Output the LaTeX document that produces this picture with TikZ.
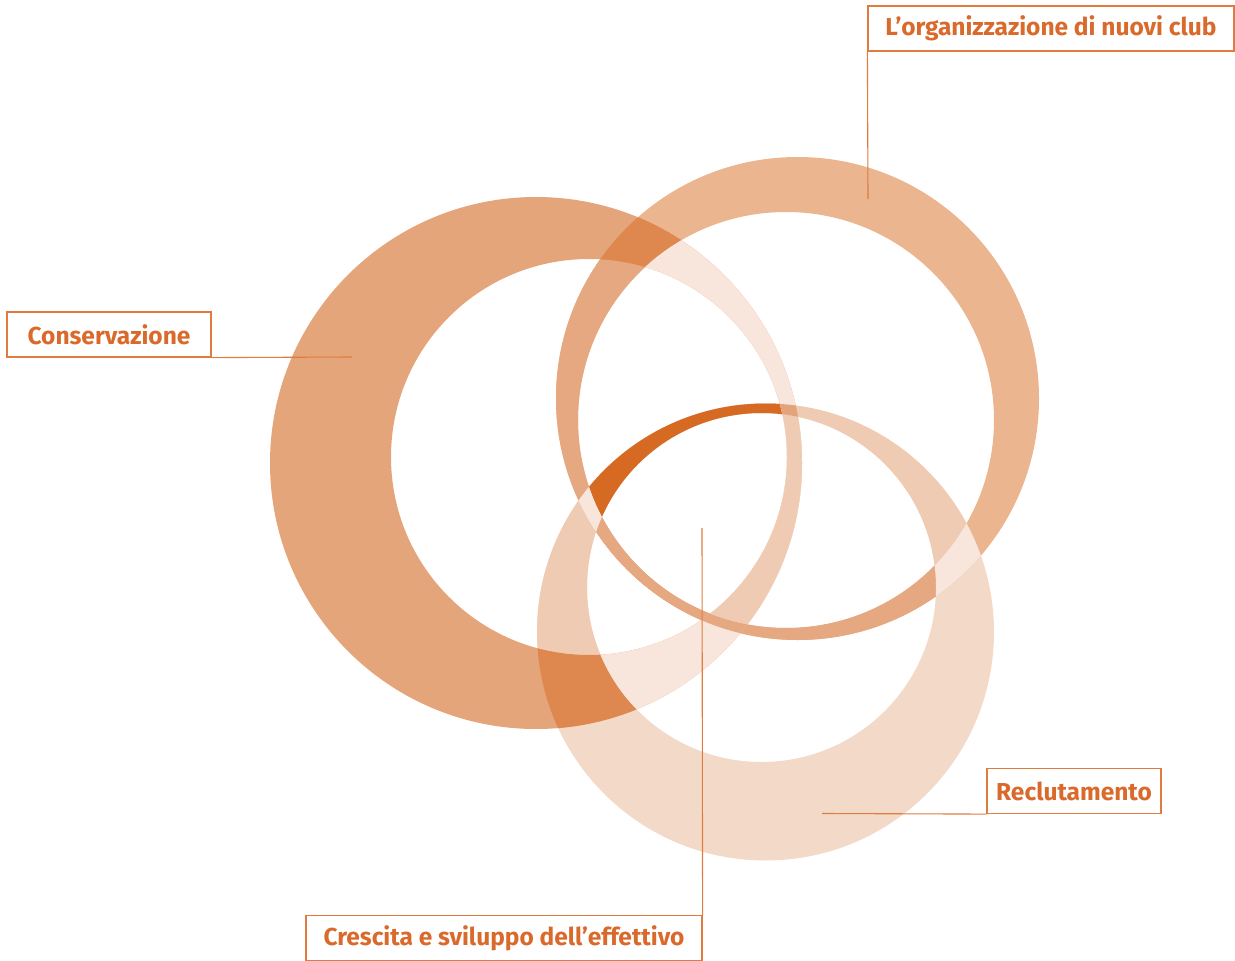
\documentclass[tikz,border=0pt]{standalone}
\usepackage{fontspec}
\setmainfont{Fira Sans}
\begin{document}
\begin{tikzpicture}[x=1pt,y=-1pt]
% palette
\definecolor{ringC}{HTML}{E5A57A}
\definecolor{ringO}{HTML}{EBB590}
\definecolor{ringR}{HTML}{F3D9C8}
\definecolor{ringOdeep}{HTML}{E6A880}
\definecolor{ringRmid}{HTML}{F0CBB3}
\definecolor{core}{HTML}{D66A22}
\definecolor{cross}{HTML}{DE8850}
\definecolor{pale}{HTML}{F8E6DC}
\definecolor{crossmid}{HTML}{E3A47B}
\definecolor{labeltext}{HTML}{DA6A2B}
\definecolor{labelline}{HTML}{E07C40}
\tikzset{
  labelbox/.style={draw=labelline, line width=1.2pt, fill=white, text=labeltext,
    font=\fontsize{24.5}{28}\selectfont\bfseries, inner sep=0pt, anchor=center},
  leader/.style={draw=labelline, line width=1.1pt},
  region/.style={fill=#1}
}
\useasboundingbox (0,0) rectangle (1235,961);
% discs and bands (outer circle anticlockwise, inner clockwise -> hole)
\def\Cin{(589,457) circle[radius=198pt]}
\def\Oin{(786,420) circle[radius=208pt]}
\def\Rin{(761.5,587.5) circle[radius=174.5pt]}
\def\Cband{(536,463) ++(266pt,0pt) arc[start angle=0,end angle=360,radius=266pt] -- cycle
  (589,457) ++(198pt,0pt) arc[start angle=0,end angle=-360,radius=198pt] -- cycle}
\def\Oband{(797.5,398.5) ++(241.5pt,0pt) arc[start angle=0,end angle=360,radius=241.5pt] -- cycle
  (786,420) ++(208pt,0pt) arc[start angle=0,end angle=-360,radius=208pt] -- cycle}
\def\Rband{(765.5,632) ++(228.5pt,0pt) arc[start angle=0,end angle=360,radius=228.5pt] -- cycle
  (761.5,587.5) ++(174.5pt,0pt) arc[start angle=0,end angle=-360,radius=174.5pt] -- cycle}
\def\All{(0,0) rectangle (1235,961)}

% base rings
\fill[ringR] \Rband;
\fill[ringO] \Oband;
\fill[ringC] \Cband;

% overlaps
\begin{scope}\clip \Oband; \clip \Cin; \fill[ringOdeep] \All; \end{scope}
\begin{scope}\clip \Oband; \clip \Rin; \fill[ringOdeep] \All; \end{scope}
\begin{scope}\clip \Rband; \clip \Cin; \fill[ringRmid] \All; \end{scope}
\begin{scope}\clip \Rband; \clip \Oin; \fill[ringRmid] \All; \end{scope}
\begin{scope}\clip \Rband; \clip \Cin; \clip \Oin; \fill[core] \All; \end{scope}
\begin{scope}\clip \Cband; \clip \Oband; \fill[cross] \All; \end{scope}
\begin{scope}\clip \Cband; \clip \Rband; \fill[cross] \All; \end{scope}
\begin{scope}\clip \Oband; \clip \Rband; \fill[pale] \All; \end{scope}
\begin{scope}\clip \Cband; \clip \Oin; \fill[pale] \All; \end{scope}
\begin{scope}\clip \Cband; \clip \Rin; \fill[pale] \All; \end{scope}
\begin{scope}\clip \Cband; \clip \Oin; \clip \Rin; \fill[ringRmid] \All; \end{scope}
\begin{scope}\clip \Cband; \clip \Rband; \clip \Oin; \fill[crossmid] \All; \end{scope}
\begin{scope}\clip \Cband; \clip \Oband; \clip \Rin; \fill[ringOdeep] \All; \end{scope}

% leader line ends
\coordinate (consEnd) at (352,357);
\coordinate (orgEnd) at (868,199);
\coordinate (reclEnd) at (822,813.5);
\coordinate (cresEnd) at (702,528);

% labels
\node[labelbox, minimum width=204pt, minimum height=45pt] (cons) at (109,334.5) {Conservazione};
\node[labelbox, minimum width=366pt, minimum height=45pt] (org) at (1051,28.5) {L’organizzazione di nuovi club};
\node[labelbox, minimum width=174pt, minimum height=45pt] (recl) at (1074,791) {Reclutamento};
\node[labelbox, minimum width=396pt, minimum height=45pt] (cres) at (504,938) {Crescita e sviluppo dell’effettivo};

% leaders
\draw[leader] (cons.south east) -- (consEnd);
\draw[leader] (org.south west) -- (orgEnd);
\draw[leader] (reclEnd) -- (recl.south west);
\draw[leader] (cres.north east) -- (cresEnd);
\end{tikzpicture}
\end{document}
